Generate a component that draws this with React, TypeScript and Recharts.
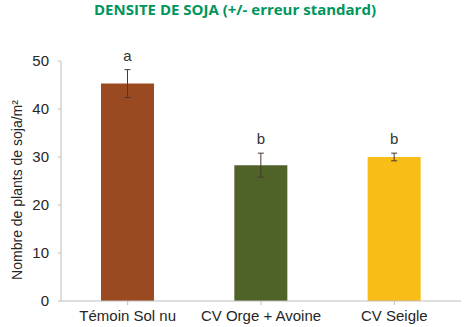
import React from 'react'
import { BarChart, Bar, XAxis, YAxis, Cell, ErrorBar, LabelList } from 'recharts'

const categories = ['Témoin Sol nu', 'CV Orge + Avoine', 'CV Seigle']
const densite = [45.3, 28.3, 30.0]
const erreur = [2.9, 2.5, 0.8]
const groupes = ['a', 'b', 'b']
const yTicks = [0, 10, 20, 30, 40, 50]
const colors = ['#9A4A21', '#4F6228', '#F8BD17']

const data = categories.map((name, i) => ({
  name,
  value: densite[i],
  err: erreur[i],
  group: groupes[i],
}))

const GroupLabel = (props: any) => {
  const { x, y, width, height, value, index } = props
  // px per unit from the bar's own scaled height
  const pxPerUnit = height / densite[index]
  const top = y - erreur[index] * pxPerUnit
  return (
    <text
      x={x + width / 2}
      y={top - 9}
      textAnchor="middle"
      fontSize={15}
      fill="#333"
      fontFamily="Liberation Sans, Arial, sans-serif"
    >
      {value}
    </text>
  )
}

export default function App() {
  return (
    <div style={{ position: 'absolute', left: 0, top: 0, width: 470, height: 327, background: '#fff' }}>
      <div
        style={{
          position: 'absolute',
          left: 0,
          top: 2,
          width: 470,
          textAlign: 'center',
          color: '#00955A',
          fontFamily: 'Open Sans, sans-serif',
          fontWeight: 700,
          fontSize: 15,
          lineHeight: '15px',
        }}
      >
        DENSITE DE SOJA (+/- erreur standard)
      </div>
      <BarChart
        width={470}
        height={327}
        data={data}
        margin={{ top: 61, right: 9, bottom: 0, left: 4 }}
        barCategoryGap="30%"
      >
        <XAxis
          dataKey="name"
          interval={0}
          stroke="#BFBFBF"
          tickLine={{ stroke: '#BFBFBF' }}
          tickSize={4}
          tickMargin={5}
          height={26}
          tick={{ fill: '#262626', fontSize: 15, fontFamily: 'Liberation Sans, Arial, sans-serif' }}
        />
        <YAxis
          domain={[0, 50]}
          ticks={yTicks}
          width={57}
          stroke="#BFBFBF"
          tickSize={3}
          tickMargin={9}
          tick={{ fill: '#262626', fontSize: 15, fontFamily: 'Liberation Sans, Arial, sans-serif' }}
          label={{
            value: 'Nombre de plants de soja/m²',
            angle: -90,
            position: 'insideLeft',
            offset: 13,
            dy: 9,
            style: {
              textAnchor: 'middle',
              fill: '#262626',
              fontSize: 14,
              fontFamily: 'Liberation Sans, Arial, sans-serif',
            },
          }}
        />
        <Bar dataKey="value" isAnimationActive={false}>
          {data.map((d, i) => (
            <Cell key={d.name} fill={colors[i]} />
          ))}
          <ErrorBar dataKey="err" width={3} stroke="#4a3a30" strokeWidth={1} />
          <LabelList dataKey="group" content={GroupLabel} />
        </Bar>
      </BarChart>
    </div>
  )
}
